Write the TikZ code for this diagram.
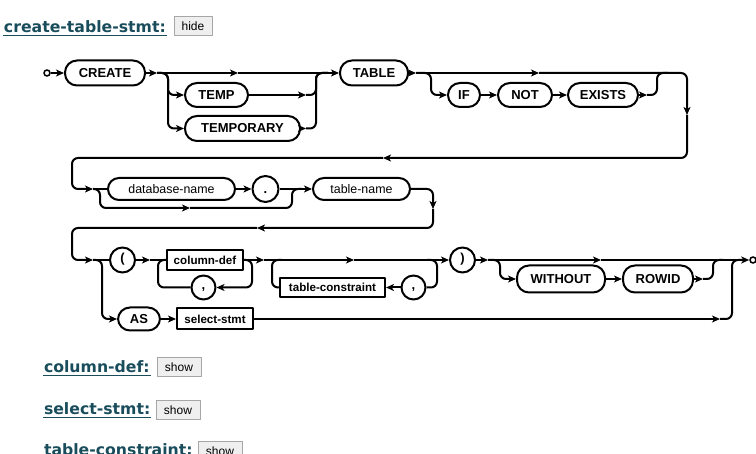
\documentclass[tikz,border=0pt]{standalone}
\usepackage{fontspec}
\setmainfont{Liberation Sans}
\newfontfamily\headfont{DejaVu Sans}
\usetikzlibrary{arrows.meta}
\definecolor{hcol}{RGB}{26,77,92}
\definecolor{btnfill}{RGB}{239,239,239}
\definecolor{btndraw}{RGB}{166,166,166}
\newcommand\kwf{\fontsize{13}{15}\selectfont\bfseries}
\newcommand\ntf{\fontsize{11.6}{13}\selectfont\bfseries}
\newcommand\ntrf{\fontsize{12.4}{14}\selectfont}
\newcommand\hdf{\headfont\fontsize{15.7}{18}\selectfont\bfseries}
\newcommand\btf{\fontsize{12}{14}\selectfont}
\tikzset{
  kw/.style={draw, rounded corners=12pt, minimum height=25pt, inner sep=0pt, font=\kwf},
  kwc/.style={draw, circle, minimum size=25pt, inner sep=0pt, font=\kwf, text height=0.7em, text depth=0.2em},
  nt/.style={draw, rectangle, minimum height=20pt, inner sep=0pt, font=\ntf},
  ntr/.style={draw, rounded corners=11pt, minimum height=22pt, inner sep=0pt, font=\ntrf},
  arr/.style={-{Stealth[length=8pt,width=7pt,inset=2.2pt]}},
  rail/.style={rounded corners=6pt},
  endpt/.style={draw, circle, minimum size=6pt, inner sep=0pt, line width=1.6pt},
  head/.style={anchor=base west, inner sep=0pt, text=hcol, font=\hdf},
  btn/.style={draw=btndraw, fill=btnfill, line width=1pt, minimum height=19pt, inner sep=0pt, font=\btf},
  uline/.style={hcol, line width=1.3pt},
}
\begin{document}
\begin{tikzpicture}[x=1pt, y=-1pt, line width=2pt, line join=round]
\useasboundingbox (0,0) rectangle (756,454);
\clip (0,0) rectangle (756,454);

% headings and buttons
\node[head] (h1) at (3,33) {create-table-stmt:};
\draw[uline] ([yshift=-2.5pt]h1.base west) -- ([yshift=-2.5pt]h1.base east);
\node[btn, minimum width=38pt] (bt1) at (193,26.5) {hide};
\node[head] (h2) at (43,373) {column-def:};
\draw[uline] ([yshift=-2.5pt]h2.base west) -- ([yshift=-2.5pt]h2.base east);
\node[btn, minimum width=44pt] (bt2) at (179,367.5) {show};
\node[head] (h3) at (43,415) {select-stmt:};
\draw[uline] ([yshift=-2.5pt]h3.base west) -- ([yshift=-2.5pt]h3.base east);
\node[btn, minimum width=44pt] (bt3) at (178,410) {show};
\node[head] (h4) at (43,456) {table-constraint:};
\draw[uline] ([yshift=-2.5pt]h4.base west) -- ([yshift=-2.5pt]h4.base east);
\node[btn, minimum width=44pt] (bt4) at (220,451.5) {show};

% ---------- row 1 ----------
\node[endpt] (st) at (47,73) {};
\node[kw, minimum width=80pt] (create) at (105,73) {CREATE};
\node[kw, minimum width=63pt, minimum height=24pt] (temp) at (216.5,95) {TEMP};
\node[kw, minimum width=115pt] (tempy) at (242.5,128.5) {TEMPORARY};
\node[kw, minimum width=68pt] (table) at (374,73) {TABLE};
\node[kw, minimum width=32pt, minimum height=24pt] (if) at (464,95) {IF};
\node[kw, minimum width=54pt, minimum height=24pt] (not) at (525,95) {NOT};
\node[kw, minimum width=70pt, minimum height=24pt] (exists) at (603,95) {EXISTS};

\coordinate (v1) at (168,0);
\coordinate (v2) at (316,0);
\coordinate (v3) at (431,0);
\coordinate (v4) at (657,0);
\coordinate (v5) at (687,0);
\coordinate (v6) at (72,0);

\coordinate (a1) at (157,73);
\coordinate (a2) at (238,73);
\coordinate (b1) at (306,95);
\coordinate (b2) at (306,128.5);
\coordinate (j1) at (328,73);
\coordinate (a3) at (416,73);
\coordinate (a4) at (539,73);
\coordinate (b3) at (647,95);
\coordinate (j2) at (668,73);
\coordinate (d1) at (687,115);
\coordinate (a5) at (383,158);

\draw[arr] (st) -- (create);
\draw[arr] (create) -- (a1);
\draw[arr] (a1) -- (a2);
\draw[arr] (a2) -- (table);
\draw[arr, rail] (a1) -- (v1 |- a1) -- (v1 |- temp) -- (temp);
\draw[arr, rail] (a1) -- (v1 |- a1) -- (v1 |- tempy) -- (tempy);
\draw[arr] (temp) -- (b1);
\draw[arr] (tempy) -- (b2);
\draw[rail] (b1) -- (v2 |- b1) -- (v2 |- j1) -- (j1);
\draw[rail] (b2) -- (v2 |- b2) -- (v2 |- j1) -- (j1);

\draw[arr] (table) -- (a3);
\draw[arr] (a3) -- (a4);
\draw[arr, rail] (a3) -- (v3 |- a3) -- (v3 |- if) -- (if);
\draw[arr] (if) -- (not);
\draw[arr] (not) -- (exists);
\draw[arr] (exists) -- (b3);
\draw[rail] (b3) -- (v4 |- b3) -- (v4 |- j2) -- (j2);
\draw[arr, rail] (a4) -- (v5 |- a4) -- (d1);
\draw[arr, rail] (d1) -- (v5 |- a5) -- (a5);

% ---------- row 2 ----------
\node[ntr, minimum width=127pt] (dbn) at (171.5,189) {database-name};
\node[kwc, minimum size=26pt] (dot) at (265.5,189) {\raisebox{-2.5pt}{.}};
\node[ntr, minimum width=97pt] (tn) at (361.5,189) {table-name};

\coordinate (v7) at (100,0);
\coordinate (v8) at (292,0);
\coordinate (v9) at (433,0);
\coordinate (a6) at (93,189);
\coordinate (a7) at (190,208);
\coordinate (j3) at (302,189);
\coordinate (d2) at (433,209);
\coordinate (a8) at (257,228);

\draw[arr, rail] (a5) -- (v6 |- a5) -- (v6 |- a6) -- (a6);
\draw (a6) -- (dbn);
\draw[arr, rail] (a6) -- (v7 |- a6) -- (v7 |- a7) -- (a7);
\draw[rail] (a7) -- (v8 |- a7) -- (v8 |- j3) -- (j3);
\draw[arr] (dbn) -- (dot);
\draw[arr] (dot) -- (tn);
\draw[arr, rail] (tn) -- (v9 |- tn) -- (d2);
\draw[arr, rail] (d2) -- (v9 |- a8) -- (a8);

% ---------- row 3 ----------
\node[kwc, minimum size=25pt] (lp) at (122.5,260) {(};
\node[nt, minimum width=76pt] (cd) at (205,260) {column-def};
\node[kwc, minimum size=24pt] (c1) at (203.5,287.5) {,};
\node[nt, minimum width=105pt, minimum height=19pt] (tc) at (332.5,287.5) {table-constraint};
\node[kwc, minimum size=24pt] (c2) at (413.5,287.5) {,};
\node[kwc, minimum size=25pt] (rp) at (462.5,260) {)};
\node[kw, minimum width=88pt, minimum height=27pt] (wo) at (561,279) {WITHOUT};
\node[kw, minimum width=70pt, minimum height=27pt] (rw) at (658,279) {ROWID};
\node[kw, minimum width=42pt, minimum height=23pt] (as) at (139,319) {AS};
\node[nt, minimum width=76pt, minimum height=21pt] (ss) at (215,319) {select-stmt};
\node[endpt] (en) at (753,260) {};

\coordinate (v10) at (102,0);
\coordinate (v11) at (158,0);
\coordinate (v12) at (252,0);
\coordinate (v13) at (272,0);
\coordinate (v14) at (437,0);
\coordinate (v15) at (500,0);
\coordinate (v16) at (713,0);
\coordinate (v17) at (732,0);
\coordinate (a9) at (93,260);
\coordinate (a10) at (150,260);
\coordinate (a11) at (264,260);
\coordinate (a12) at (354,260);
\coordinate (j4) at (427,260);
\coordinate (j5) at (282,260);
\coordinate (a13) at (488,260);
\coordinate (a14) at (601,260);
\coordinate (b4) at (703,279);
\coordinate (j7) at (723,260);
\coordinate (a15) at (720,319);
\coordinate (j6) at (742,260);

\draw[arr, rail] (a8) -- (v6 |- a8) -- (v6 |- a9) -- (a9);
\draw (a9) -- (lp);
\draw[arr, rail] (a9) -- (v10 |- a9) -- (v10 |- as) -- (as);
\draw[arr] (lp) -- (a10);
\draw (a10) -- (cd);
\draw[arr] (cd) -- (a11);
\draw[arr, rail] (cd.east) -- (v12 |- cd) -- (v12 |- c1) -- (c1);
\draw[rail] (c1) -- (v11 |- c1) -- (v11 |- cd) -- (cd.west);
\draw[arr] (a11) -- (a12);
\draw[arr] (a12) -- (rp);
\draw[rail] (j4) -- (v14 |- j4) -- (v14 |- c2) -- (c2);
\draw[arr] (c2) -- (tc);
\draw[rail] (tc) -- (v13 |- tc) -- (v13 |- j5) -- (j5);

\draw[arr] (rp) -- (a13);
\draw[arr] (a13) -- (a14);
\draw[arr] (a14) -- (en);
\draw[arr, rail] (a13) -- (v15 |- a13) -- (v15 |- wo) -- (wo);
\draw[arr] (wo) -- (rw);
\draw[arr] (rw) -- (b4);
\draw[rail] (b4) -- (v16 |- b4) -- (v16 |- j7) -- (j7);

\draw[arr] (as) -- (ss);
\draw[arr] (ss) -- (a15);
\draw[rail] (a15) -- (v17 |- a15) -- (v17 |- j6) -- (j6);
\end{tikzpicture}
\end{document}
